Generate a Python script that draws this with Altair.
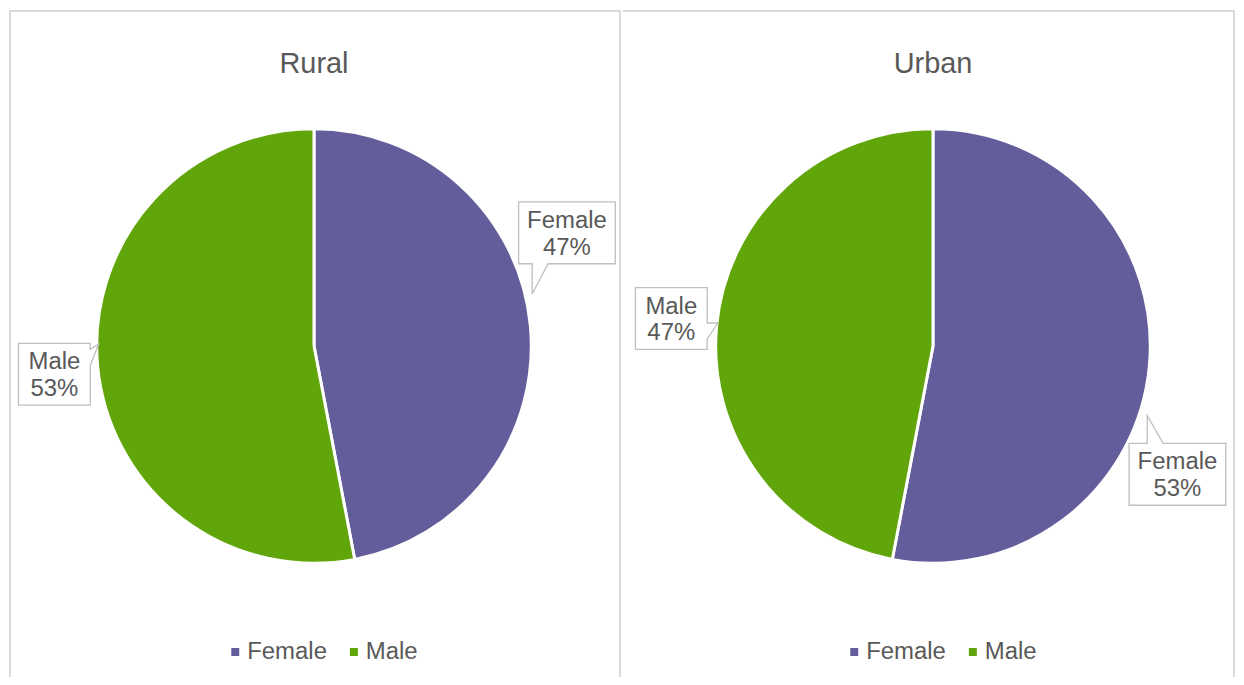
import math
import pandas as pd
import altair as alt

# ---------------- data ----------------
REGIONS = ["Rural", "Urban"]
GENDERS = ["Female", "Male"]
RURAL_PCT = [47, 53]
URBAN_PCT = [53, 47]

# ---------------- style / layout ----------------
COLORS = ["#635E9B", "#60A50A"]
TEXT_COLOR = "#595959"
BOX_STROKE = "#BFBFBF"
BORDER = "#D9D9D9"
FONT = "Liberation Sans"

PANEL_W = [614, 614]
PANEL_H = 669
PIE_CX = [306, 311]
PIE_CY = 337
PIE_R = 217
TITLE_Y = 63

# per label: (box angle shift from slice mid-angle, box distance, tip angle shift, tip distance)
LABEL_LAYOUT = {
    "Rural": {"Female": (-18.7, 278, -8.0, 225), "Male": (-0.8, 262, 5.9, 216)},
    "Urban": {"Female": (22.3, 277, 12.6, 226), "Male": (0.6, 264, 0.7, 217)},
}


def callout_path(w, h, tx, ty, L=16, m=6):
    hw, hh = w / 2.0, h / 2.0
    if abs(tx) / hw > abs(ty) / hh:
        side = "right" if tx > 0 else "left"
    else:
        side = "bottom" if ty > 0 else "top"
    pts = []
    pts.append((-hw, -hh))
    if side == "top":
        a = min(max(tx, -hw + m), hw - m - L)
        pts += [(a, -hh), (tx, ty), (a + L, -hh)]
    pts.append((hw, -hh))
    if side == "right":
        a = min(max(ty, -hh + m), hh - m - L)
        pts += [(hw, a), (tx, ty), (hw, a + L)]
    pts.append((hw, hh))
    if side == "bottom":
        a = min(max(tx, -hw + m), hw - m - L)
        pts += [(a + L, hh), (tx, ty), (a, hh)]
    pts.append((-hw, hh))
    if side == "left":
        a = min(max(ty, -hh + m), hh - m - L)
        pts += [(-hw, a + L), (tx, ty), (-hw, a)]
    scale = 50.0  # size 10000 -> unit = 50 px
    return "M" + " L".join(f"{x/scale:.4f},{y/scale:.4f}" for x, y in pts) + " Z"


def panel(region, pcts, w, cx, draw_left):
    total = float(sum(pcts))
    rows = []
    cum = 0.0
    for i, (g, p) in enumerate(zip(GENDERS, pcts)):
        mid = (cum + p / 2.0) / total * 360.0
        cum += p
        sh, dist, tsh, tdist = LABEL_LAYOUT[region][g]
        ba = math.radians(mid + sh)
        bx = cx + dist * math.sin(ba)
        by = PIE_CY - dist * math.cos(ba)
        ta = math.radians(mid + tsh)
        tx = cx + tdist * math.sin(ta)
        ty = PIE_CY - tdist * math.cos(ta)
        bw = max(len(g), len(f"{p}%")) * 12.5 + 22
        bh = 62
        rows.append({
            "gender": g, "pct": p, "idx": i,
            "label": f"{g}\n{p}%",
            "bx": bx, "by": by, "ty_text": by - 5,
            "path": callout_path(bw, bh, tx - bx, ty - by),
        })
    df = pd.DataFrame(rows)

    arcs = alt.Chart(df).mark_arc(
        outerRadius=PIE_R + 1, stroke="white", strokeWidth=3
    ).encode(
        theta=alt.Theta("pct:Q", stack=True),
        color=alt.Color(
            "gender:N",
            scale=alt.Scale(domain=GENDERS, range=COLORS),
            legend=alt.Legend(
                title=None, orient="none", direction="horizontal",
                legendX=cx - 91, legendY=632, padding=0,
                symbolType="square", symbolSize=64, symbolStrokeWidth=0,
                labelFontSize=24, labelFont=FONT, labelColor=TEXT_COLOR,
                labelOffset=0, columnPadding=14,
            ),
        ),
        order=alt.Order("idx:Q"),
        x=alt.value(cx),
        y=alt.value(PIE_CY),
    )

    boxes = alt.Chart(df).mark_point(
        filled=True, fill="white", stroke=BOX_STROKE, strokeWidth=1.3,
        size=10000, opacity=1,
    ).encode(
        x=alt.X("bx:Q", scale=None, axis=None),
        y=alt.Y("by:Q", scale=None, axis=None),
        shape=alt.Shape("path:N", scale=None, legend=None),
    )

    texts = alt.Chart(df).mark_text(
        lineBreak="\n", fontSize=24, font=FONT, color=TEXT_COLOR,
        baseline="alphabetic", lineHeight=27, align="center",
    ).encode(
        x=alt.X("bx:Q", scale=None, axis=None),
        y=alt.Y("ty_text:Q", scale=None, axis=None),
        text="label:N",
    )

    title = alt.Chart(pd.DataFrame({"t": [region]})).mark_text(
        fontSize=29, font=FONT, color=TEXT_COLOR, baseline="alphabetic", align="center"
    ).encode(text="t:N", x=alt.value(cx), y=alt.value(TITLE_Y))

    one = pd.DataFrame({"d": [0]})
    rules = [
        alt.Chart(one).mark_rule(color=BORDER, strokeWidth=2).encode(
            x=alt.value(0), x2=alt.value(w), y=alt.value(1)),
        alt.Chart(one).mark_rule(color=BORDER, strokeWidth=2).encode(
            x=alt.value(w - 1), y=alt.value(0), y2=alt.value(PANEL_H)),
    ]
    if draw_left:
        rules.append(alt.Chart(one).mark_rule(color=BORDER, strokeWidth=2).encode(
            x=alt.value(1), y=alt.value(0), y2=alt.value(PANEL_H)))

    return alt.layer(*rules, arcs, boxes, texts, title).properties(width=w, height=PANEL_H)


left = panel(REGIONS[0], RURAL_PCT, PANEL_W[0], PIE_CX[0], True)
right = panel(REGIONS[1], URBAN_PCT, PANEL_W[1], PIE_CX[1], False)

chart = alt.hconcat(left, right, spacing=0).resolve_scale(
    color="independent"
).resolve_legend(color="independent").configure_view(stroke=None).properties(
    padding=0, background="white"
)

chart.save("out.html", embed_options={"renderer": "svg", "actions": False})
